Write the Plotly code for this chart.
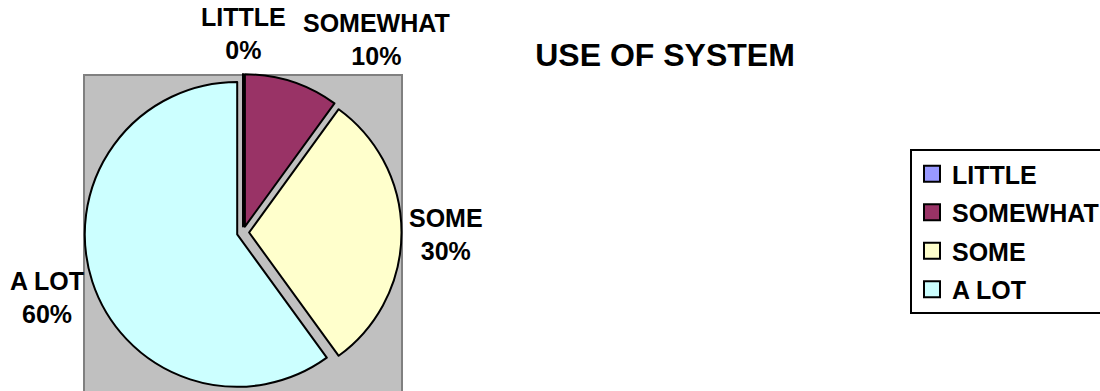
import plotly.graph_objects as go

categories = ["LITTLE", "SOMEWHAT", "SOME", "A LOT"]
values = [0, 10, 30, 60]
colors = ["#9999FF", "#993366", "#FFFFCC", "#CCFFFF"]
title_text = "USE OF SYSTEM"

W, H = 1100, 391
FONT = "Arial, 'Liberation Sans', sans-serif"

# pie domain (pixels -> paper)
px0, px1, py0, py1 = 84, 402, 74, 391
dom_x = [px0 / W, px1 / W]
dom_y = [1 - py1 / H, 1 - py0 / H]

# label block centres (pixels), one per category
label_pos = [(243, 33), (376, 40), (446, 234), (47, 297)]

fig = go.Figure()

fig.add_trace(go.Pie(
    labels=categories,
    values=values,
    sort=False,
    direction="clockwise",
    rotation=0,
    pull=0.04,
    marker=dict(colors=colors, line=dict(color="black", width=2)),
    textinfo="none",
    domain=dict(x=dom_x, y=dom_y),
    showlegend=False,
    hoverinfo="label+percent",
))

# legend entries (one per category, so spacing can be controlled)
for lab, col in zip(categories, colors):
    fig.add_trace(go.Scatter(
        x=[None], y=[None], mode="markers", name=lab, legendgroup=lab,
        marker=dict(symbol="square", size=18, color=col,
                    line=dict(color="black", width=2)),
        showlegend=True,
    ))

total = sum(values)
annotations = []
for lab, v, (lx, ly) in zip(categories, values, label_pos):
    annotations.append(dict(
        text=f"{lab}<br>{round(100 * v / total)}%",
        xref="paper", yref="paper", x=lx / W, y=1 - ly / H,
        xanchor="center", yanchor="middle", align="center", showarrow=False,
        font=dict(family=FONT, size=25, color="black", weight="bold"),
    ))

fig.update_layout(
    width=W, height=H,
    margin=dict(l=0, r=0, t=0, b=0, autoexpand=False),
    paper_bgcolor="white",
    plot_bgcolor="rgba(0,0,0,0)",
    xaxis=dict(visible=False),
    yaxis=dict(visible=False),
    title=dict(
        text=title_text, x=665 / W, xanchor="center", y=1 - 55 / H, yanchor="middle",
        font=dict(family=FONT, size=32, color="black", weight="bold"),
    ),
    legend=dict(
        x=910 / W, xanchor="left", y=1 - 149 / H, yanchor="top",
        bgcolor="white", bordercolor="black", borderwidth=2,
        font=dict(family=FONT, size=25, color="black", weight="bold"),
        tracegroupgap=3, itemwidth=30,
    ),
    annotations=annotations,
    shapes=[dict(
        type="rect", xref="paper", yref="paper", layer="below",
        x0=dom_x[0], x1=dom_x[1], y0=-0.02, y1=1 - 75 / H,
        fillcolor="#C0C0C0", line=dict(color="#808080", width=2),
    )],
)

fig.write_html("out.html")
